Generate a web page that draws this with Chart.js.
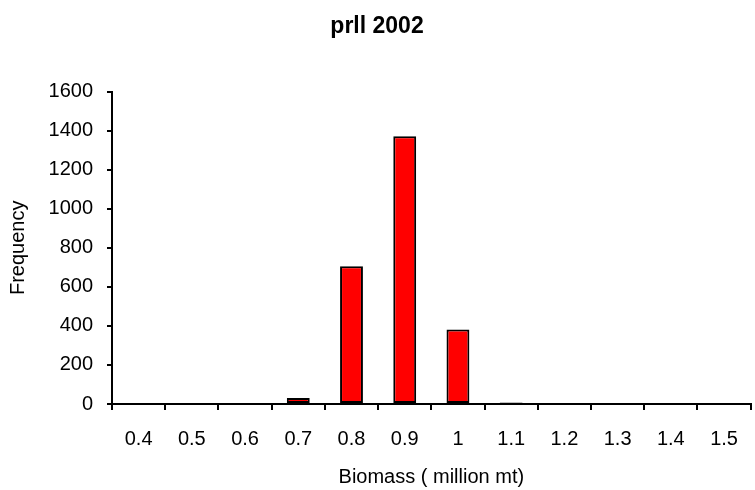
<!DOCTYPE html>
<html>
<head>
<meta charset="utf-8">
<script src="https://cdn.jsdelivr.net/npm/chart.js@4/dist/chart.umd.min.js"></script>
<style>
  html, body { margin: 0; padding: 0; background: #fff; }
  #wrap { width: 755px; height: 490px; }
</style>
</head>
<body>
<div id="wrap"><canvas id="myChart" width="755" height="490"></canvas></div>
<script>
// biomass bins (million mt) and how often each came up
const biomass = ['0.4', '0.5', '0.6', '0.7', '0.8', '0.9', '1', '1.1', '1.2', '1.3', '1.4', '1.5'];
const frequency = [0, 0, 0, 31, 705, 1371, 381, 8, 0, 0, 0, 0];
const yMax = 1600;
const yStep = 200;

const font = 'Arial, "Liberation Sans", sans-serif';

const ctx = document.getElementById('myChart').getContext('2d');
new Chart(ctx, {
  type: 'bar',
  data: {
    labels: biomass,
    datasets: [{
      data: frequency,
      backgroundColor: '#ff0000',
      borderColor: '#000000',
      borderWidth: 2,
      borderSkipped: false,
      barPercentage: 0.43,
      categoryPercentage: 1
    }]
  },
  options: {
    responsive: false,
    animation: false,
    layout: { padding: { left: 0, right: 1, top: 0, bottom: 0 } },
    scales: {
      x: {
        offset: true,
        grid: { display: true, drawOnChartArea: false, offset: true, tickLength: 6, color: '#000', lineWidth: 2 },
        border: { color: '#000', width: 2 },
        ticks: { color: '#000', font: { family: font, size: 20 }, padding: 17, maxRotation: 0, autoSkip: false },
        title: { display: true, text: 'Biomass ( million mt)', color: '#000', font: { family: font, size: 20 }, padding: { top: 0, bottom: 1 } },
        afterFit: (scale) => { scale.height = 86; }
      },
      y: {
        min: 0,
        max: yMax,
        grid: { display: true, drawOnChartArea: false, tickLength: 5, color: '#000', lineWidth: 2 },
        border: { color: '#000', width: 2 },
        ticks: { stepSize: yStep, color: '#000', font: { family: font, size: 20 }, padding: 14, callback: (v) => String(v) },
        title: { display: true, text: 'Frequency', color: '#000', font: { family: font, size: 20 }, padding: { top: 6, bottom: 0 } },
        afterFit: (scale) => { scale.width = 112; }
      }
    },
    plugins: {
      legend: { display: false },
      tooltip: { enabled: false },
      title: {
        display: true,
        text: 'prll 2002',
        color: '#000',
        font: { family: font, size: 23, weight: 'bold' },
        padding: { top: 13, bottom: 51 }
      }
    }
  }
});
</script>
</body>
</html>
